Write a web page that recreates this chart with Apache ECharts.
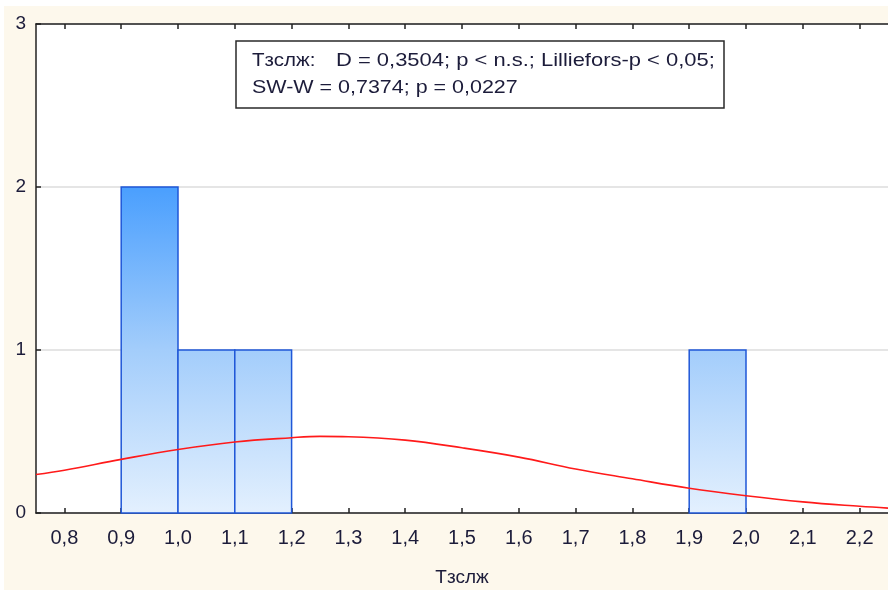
<!DOCTYPE html>
<html>
<head>
<meta charset="utf-8">
<script src="https://cdn.jsdelivr.net/npm/echarts@6/dist/echarts.min.js"></script>
<style>
html,body{margin:0;padding:0;background:#ffffff;}
#chart{width:888px;height:593px;}
</style>
</head>
<body>
<div id="chart"></div>
<script>
// ---- data ----
var binStart = [0.9, 1.0, 1.1, 1.9];
var binEnd   = [1.0, 1.1, 1.2, 2.0];
var counts   = [2, 1, 1, 1];

var curveX = [0.75, 0.8, 0.9, 1.0, 1.1, 1.2, 1.25, 1.3, 1.4, 1.5, 1.6, 1.7, 1.8, 1.9, 2.0, 2.1, 2.2, 2.25];
var curveY = [0.236, 0.262, 0.329, 0.39, 0.436, 0.462, 0.47, 0.468, 0.447, 0.40, 0.343, 0.27, 0.21, 0.152, 0.106, 0.068, 0.041, 0.03];

var xTicks = [0.8, 0.9, 1.0, 1.1, 1.2, 1.3, 1.4, 1.5, 1.6, 1.7, 1.8, 1.9, 2.0, 2.1, 2.2];
var xTickLabels = ['0,8','0,9','1,0','1,1','1,2','1,3','1,4','1,5','1,6','1,7','1,8','1,9','2,0','2,1','2,2'];
var yTickLabels = ['0','1','2','3'];

var xName = 'Тзслж';
var statVar = 'Тзслж:';
var statLine1 = 'D = 0,3504; p < n.s.; Lilliefors-p < 0,05;';
var statLine2 = 'SW-W = 0,7374; p = 0,0227';

var histData = binStart.map(function (s, i) { return [s, binEnd[i], counts[i]]; });
var curveData = curveX.map(function (x, i) { return [x, curveY[i]]; });

var chart = echarts.init(document.getElementById('chart'), null, {renderer: 'canvas'});
var txtColor = '#1c1c3a';
var font = 'Liberation Sans, Arial, sans-serif';

function xLabel(v) {
  for (var i = 0; i < xTicks.length; i++) {
    if (Math.abs(xTicks[i] - v) < 1e-6) return xTickLabels[i];
  }
  return '';
}

var option = {
  backgroundColor: '#ffffff',
  animation: false,
  graphic: [
    {type: 'rect', z: -10, silent: true, shape: {x: 4, y: 6, width: 884, height: 584}, style: {fill: '#fdf8ec'}},
    {type: 'group', z: 100, children: [
      {type: 'rect', shape: {x: 236, y: 41, width: 488, height: 67}, style: {fill: '#ffffff', stroke: '#2a2a2a', lineWidth: 1.5}},
      {type: 'text', x: 252, y: 61, scaleX: 1.08, style: {text: statVar, fill: txtColor, font: '19px ' + font, verticalAlign: 'middle'}},
      {type: 'text', x: 336, y: 61, scaleX: 1.155, style: {text: statLine1, fill: txtColor, font: '19px ' + font, verticalAlign: 'middle'}},
      {type: 'text', x: 252, y: 88, scaleX: 1.13, style: {text: statLine2, fill: txtColor, font: '19px ' + font, verticalAlign: 'middle'}}
    ]}
  ],
  grid: {
    left: 36, top: 24, right: -3, bottom: 80,
    show: true, backgroundColor: '#ffffff', borderWidth: 0
  },
  xAxis: [
    {
      type: 'value', position: 'bottom', min: 0.75, max: 2.25,
      name: xName, nameLocation: 'middle', nameGap: 55,
      nameTextStyle: {color: txtColor, fontSize: 19, fontFamily: font},
      axisLine: {show: true, onZero: false, lineStyle: {color: '#222', width: 1.5}},
      axisTick: {show: true, inside: true, length: 5, customValues: xTicks, lineStyle: {color: '#222', width: 1.5}},
      axisLabel: {show: true, customValues: xTicks, formatter: xLabel, color: txtColor, fontSize: 20, fontFamily: font, margin: 15},
      splitLine: {show: false}
    },
    {
      type: 'value', position: 'top', min: 0.75, max: 2.25,
      axisLine: {show: true, onZero: false, lineStyle: {color: '#222', width: 1.5}},
      axisTick: {show: true, inside: true, length: 5, customValues: xTicks, lineStyle: {color: '#222', width: 1.5}},
      axisLabel: {show: false},
      splitLine: {show: false}
    }
  ],
  yAxis: {
    type: 'value', min: 0, max: 3, interval: 1,
    axisLine: {show: true, lineStyle: {color: '#222', width: 1.5}},
    axisTick: {show: true, inside: true, length: 5, lineStyle: {color: '#222', width: 1.5}},
    axisLabel: {color: txtColor, fontSize: 19, fontFamily: font, margin: 10,
      formatter: function (v) { return yTickLabels[Math.round(v)]; }},
    splitLine: {show: true, lineStyle: {color: '#dcdcdc', width: 1.5}}
  },
  series: [
    {
      type: 'custom',
      xAxisIndex: 0,
      data: histData,
      z: 2,
      renderItem: function (params, api) {
        var x0 = api.value(0), x1 = api.value(1), c = api.value(2);
        var p0 = api.coord([x0, c]);
        var p1 = api.coord([x1, 0]);
        var gTop = api.coord([x0, 2])[1];
        var gBot = api.coord([x0, 0])[1];
        var grad = new echarts.graphic.LinearGradient(0, gTop, 0, gBot, [
          {offset: 0, color: '#4a9ffe'},
          {offset: 0.5, color: '#a3cdfb'},
          {offset: 1, color: '#e3f0fe'}
        ], true);
        return {
          type: 'rect',
          shape: {x: p0[0], y: p0[1], width: p1[0] - p0[0], height: p1[1] - p0[1]},
          style: {fill: grad, stroke: '#1f57d8', lineWidth: 1.5}
        };
      }
    },
    {
      type: 'line',
      xAxisIndex: 0,
      data: curveData,
      smooth: 0.4,
      showSymbol: false,
      z: 5,
      lineStyle: {color: '#ff1a1a', width: 1.6}
    }
  ]
};
chart.setOption(option);
</script>
</body>
</html>
